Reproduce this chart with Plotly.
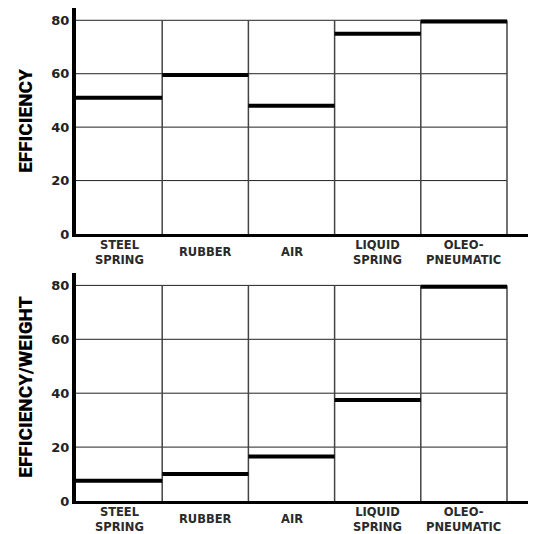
import plotly.graph_objects as go

categories = ["STEEL<br>SPRING", "RUBBER", "AIR", "LIQUID<br>SPRING", "OLEO-<br>PNEUMATIC"]
efficiency = [51, 59.5, 48, 75, 79.5]
efficiency_per_weight = [7.5, 10, 16.5, 37.5, 79.5]
y_ticks = [0, 20, 40, 60, 80]
y_titles = ["EFFICIENCY", "EFFICIENCY/WEIGHT"]

# page body has an 8px margin, so the figure is sized to fit the 536x534 window
W, H = 528, 526
ML, MR, MT, MB = 68, 0, 0, 33
plot_h = H - MT - MB
top_dom = [1 - 226 / plot_h, 1]
bot_dom = [0, 228 / plot_h]

n = len(categories)
x_max = n * (W - ML) / 431.0
y_max = 84.6

fig = go.Figure()

title_font = dict(family="Roboto, Liberation Sans, sans-serif", size=19, color="#000", weight=900)
tick_font = dict(family="DejaVu Sans, Verdana, sans-serif", size=13, color="#222", weight="bold")
cat_font = dict(family="DejaVu Sans, Verdana, sans-serif", size=11.5, color="#2a2a2a", weight="bold")

shapes = []
annotations = []
for k, vals in enumerate([efficiency, efficiency_per_weight]):
    xa = "x" if k == 0 else "x2"
    ya = "y" if k == 0 else "y2"
    xs, ys = [], []
    for i, v in enumerate(vals):
        xs += [i, i + 1, None]
        ys += [v, v, None]
    fig.add_trace(go.Scatter(x=xs, y=ys, mode="lines", xaxis=xa, yaxis=ya,
                             line=dict(color="black", width=4), hoverinfo="skip",
                             showlegend=False))
    for t in y_ticks[1:]:
        shapes.append(dict(type="line", xref=xa, yref=ya, x0=0, x1=n, y0=t, y1=t,
                           line=dict(color="#222", width=1), layer="below"))
    for i in range(1, n + 1):
        shapes.append(dict(type="line", xref=xa, yref=ya, x0=i, x1=i, y0=0, y1=y_ticks[-1],
                           line=dict(color="#444", width=1.5), layer="below"))
    for i, c in enumerate(categories):
        annotations.append(dict(text=c, x=i + 0.5, xref=xa, y=0, yref=ya + " domain",
                                yshift=-18, yanchor="middle", xanchor="center",
                                showarrow=False, font=cat_font))

axis_x = dict(range=[0, x_max], showgrid=False, zeroline=False, showticklabels=False,
              showline=True, linewidth=3, linecolor="black", ticks="")
axis_y = dict(range=[0, y_max], tickvals=y_ticks, showgrid=False, zeroline=False,
              showline=True, linewidth=4, linecolor="black", ticks="",
              tickfont=tick_font, ticklabelstandoff=0)

fig.update_layout(
    width=W, height=H,
    margin=dict(l=ML, r=MR, t=MT, b=MB),
    paper_bgcolor="white", plot_bgcolor="white",
    xaxis=dict(axis_x, domain=[0, 1], anchor="y"),
    yaxis=dict(axis_y, domain=top_dom, anchor="x",
               title=dict(text=y_titles[0], font=title_font, standoff=15)),
    xaxis2=dict(axis_x, domain=[0, 1], anchor="y2"),
    yaxis2=dict(axis_y, domain=bot_dom, anchor="x2",
                title=dict(text=y_titles[1], font=title_font, standoff=15)),
    shapes=shapes,
    annotations=annotations,
)

fig.write_html("out.html")
